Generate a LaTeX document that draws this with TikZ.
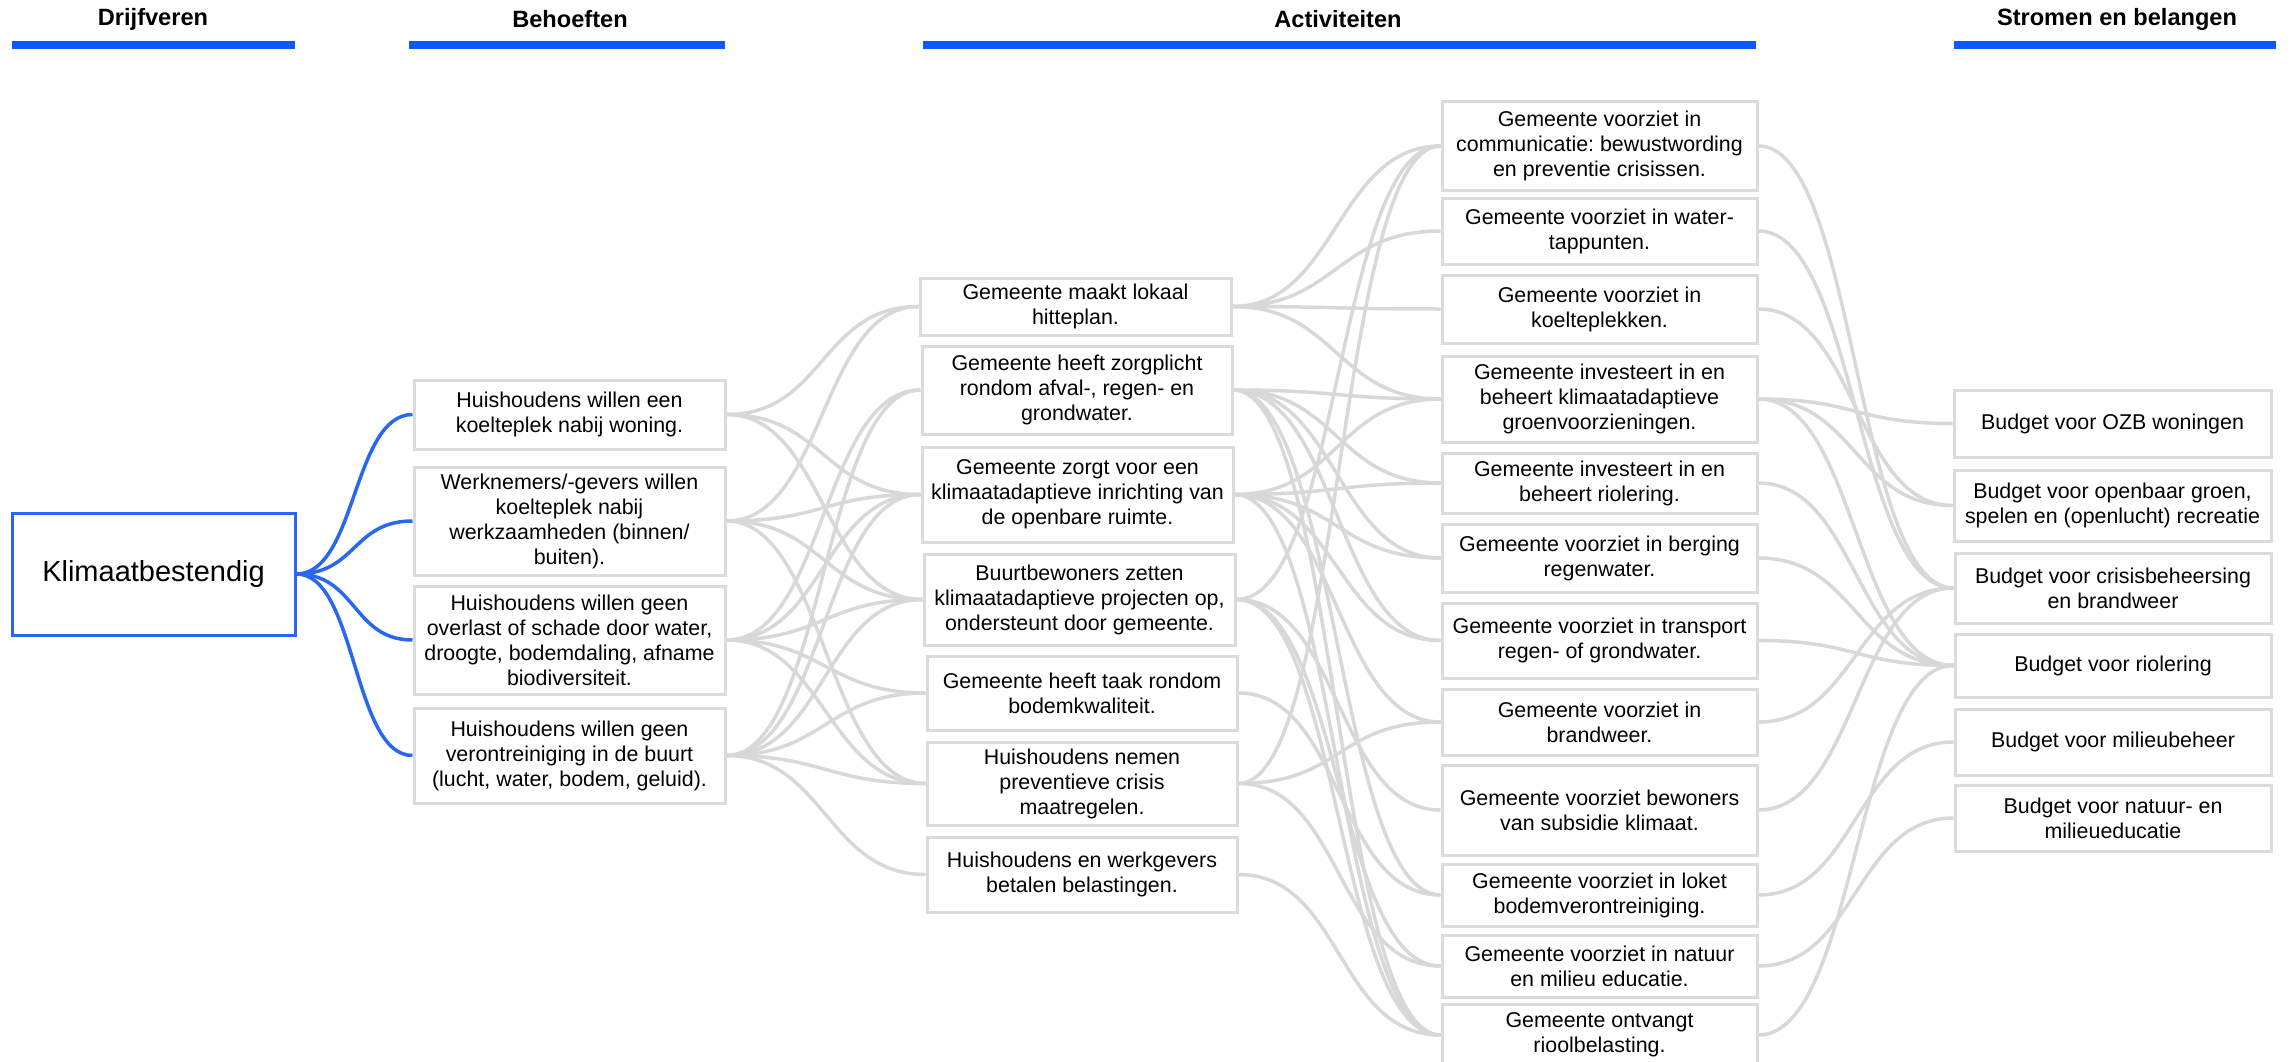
\documentclass[tikz,border=0pt]{standalone}
\usepackage{fontspec}
\setmainfont{Liberation Sans}
\usetikzlibrary{backgrounds}
\frenchspacing

\definecolor{linkgrey}{RGB}{216,216,216}
\definecolor{boxgrey}{RGB}{219,219,219}
\definecolor{barblue}{RGB}{14,88,255}
\definecolor{rootblue}{RGB}{40,104,240}

\begin{document}
\begin{tikzpicture}[x=1pt,y=-1pt,
  box/.style={draw=boxgrey, line width=3pt, fill=white, align=center,
    inner sep=2pt, font=\fontsize{21.4}{25}\selectfont\frenchspacing},
  rootbox/.style={draw=rootblue, line width=3pt, fill=white, align=center,
    font=\fontsize{29}{34}\selectfont},
  head/.style={font=\fontsize{23.6}{28}\selectfont\bfseries},
  bar/.style={fill=barblue, draw=none},
  link/.style={draw=linkgrey, line width=3.5pt},
  rootlink/.style={draw=rootblue, line width=3.5pt}]

\useasboundingbox (0,0) rectangle (2290,1062);

% column headers
\node[head] (hd1) at (153,19) {Drijfveren};
\node[head] (hd2) at (570,19) {Behoeften};
\node[head] (hd3) at (1338,19) {Activiteiten};
\node[head] (hd4) at (2117,19) {Stromen en belangen};
\fill[bar] (12,41.5) rectangle (295,49.5);
\fill[bar] (409,41.5) rectangle (725,49.5);
\fill[bar] (923,41.5) rectangle (1756,49.5);
\fill[bar] (1954,41.5) rectangle (2276,49.5);

% driver
\node[rootbox, minimum width=283pt, minimum height=122pt] (k) at (153.5,574) {Klimaatbestendig};

% needs
\node[box, minimum width=311pt, minimum height=69pt]  (b1) at (569.5,414.5) {Huishoudens willen een\\koelteplek nabij woning.};
\node[box, minimum width=311pt, minimum height=108pt] (b2) at (569.5,521) {Werknemers/-gevers willen\\koelteplek nabij\\werkzaamheden (binnen/\\buiten).};
\node[box, minimum width=311pt, minimum height=108pt] (b3) at (569.5,640) {Huishoudens willen geen\\overlast of schade door water,\\droogte, bodemdaling, afname\\biodiversiteit.};
\node[box, minimum width=311pt, minimum height=95pt]  (b4) at (569.5,755.5) {Huishoudens willen geen\\verontreiniging in de buurt\\(lucht, water, bodem, geluid).};

% activities, first column
\node[box, minimum width=311pt, minimum height=57pt] (a1) at (1075.5,306.5) {Gemeente maakt lokaal\\hitteplan.};
\node[box, minimum width=310pt, minimum height=88pt] (a2) at (1077,390) {Gemeente heeft zorgplicht\\rondom afval-, regen- en\\grondwater.};
\node[box, minimum width=311pt, minimum height=95pt] (a3) at (1077.5,494.5) {Gemeente zorgt voor een\\klimaatadaptieve inrichting van\\de openbare ruimte.};
\node[box, minimum width=311pt, minimum height=91pt] (a4) at (1079.5,599.5) {Buurtbewoners zetten\\klimaatadaptieve projecten op,\\ondersteunt door gemeente.};
\node[box, minimum width=310pt, minimum height=74pt] (a5) at (1082,693) {Gemeente heeft taak rondom\\bodemkwaliteit.};
\node[box, minimum width=310pt, minimum height=83pt] (a6) at (1082,783.5) {Huishoudens nemen\\preventieve crisis\\maatregelen.};
\node[box, minimum width=310pt, minimum height=75pt] (a7) at (1082,874.5) {Huishoudens en werkgevers\\betalen belastingen.};

% activities, second column
\node[box, minimum width=315pt, minimum height=88pt] (c1) at (1599.5,146) {Gemeente voorziet in\\communicatie: bewustwording\\en preventie crisissen.};
\node[box, minimum width=315pt, minimum height=66pt] (c2) at (1599.5,231) {Gemeente voorziet in water-\\tappunten.};
\node[box, minimum width=315pt, minimum height=68pt] (c3) at (1599.5,309) {Gemeente voorziet in\\koelteplekken.};
\node[box, minimum width=315pt, minimum height=86pt] (c4) at (1599.5,399) {Gemeente investeert in en\\beheert klimaatadaptieve\\groenvoorzieningen.};
\node[box, minimum width=315pt, minimum height=60pt] (c5) at (1599.5,483) {Gemeente investeert in en\\beheert riolering.};
\node[box, minimum width=315pt, minimum height=68pt] (c6) at (1599.5,558) {Gemeente voorziet in berging\\regenwater.};
\node[box, minimum width=315pt, minimum height=75pt] (c7) at (1599.5,640.5) {Gemeente voorziet in transport\\regen- of grondwater.};
\node[box, minimum width=315pt, minimum height=66pt] (c8) at (1599.5,722) {Gemeente voorziet in\\brandweer.};
\node[box, minimum width=315pt, minimum height=90pt] (c9) at (1599.5,810) {Gemeente voorziet bewoners\\van subsidie klimaat.};
\node[box, minimum width=315pt, minimum height=62pt] (c10) at (1599.5,895) {Gemeente voorziet in loket\\bodemverontreiniging.};
\node[box, minimum width=315pt, minimum height=62pt] (c11) at (1599.5,966) {Gemeente voorziet in natuur\\en milieu educatie.};
\node[box, minimum width=315pt, minimum height=62pt] (c12) at (1599.5,1035) {Gemeente ontvangt\\rioolbelasting.};

% flows and interests
\node[box, minimum width=317pt, minimum height=67pt] (s1) at (2112.5,423.5) {Budget voor OZB woningen};
\node[box, minimum width=317pt, minimum height=71pt] (s2) at (2112.5,505.5) {Budget voor openbaar groen,\\spelen en (openlucht) recreatie};
\node[box, minimum width=316pt, minimum height=70pt] (s3) at (2113,588) {Budget voor crisisbeheersing\\en brandweer};
\node[box, minimum width=316pt, minimum height=63pt] (s4) at (2113,665.5) {Budget voor riolering};
\node[box, minimum width=316pt, minimum height=66pt] (s5) at (2113,742) {Budget voor milieubeheer};
\node[box, minimum width=316pt, minimum height=66pt] (s6) at (2113,818) {Budget voor natuur- en\\milieueducatie};

\begin{scope}[on background layer]
  % driver to needs
  \foreach \t in {b1,b2,b3,b4}
    \draw[rootlink] (k.east) .. controls +(60,0) and +(-60,0) .. (\t.west);
  % needs to activities
  \foreach \s/\t in {b1/a1,b1/a3,b1/a4,
                     b2/a1,b2/a3,b2/a4,b2/a6,
                     b3/a2,b3/a3,b3/a4,b3/a5,b3/a6,
                     b4/a2,b4/a3,b4/a4,b4/a5,b4/a6,b4/a7}
    \draw[link] (\s.east) .. controls +(98,0) and +(-98,0) .. (\t.west);
  % activities to municipal services
  \foreach \s/\t in {a1/c1,a1/c2,a1/c3,a1/c4,
                     a2/c4,a2/c5,a2/c6,a2/c7,a2/c10,a2/c12,
                     a3/c4,a3/c5,a3/c6,a3/c7,a3/c8,a3/c12,
                     a4/c1,a4/c9,a4/c11,a4/c12,
                     a5/c10,
                     a6/c1,a6/c8,a6/c11,
                     a7/c12}
    \draw[link] (\s.east) .. controls +(104,0) and +(-104,0) .. (\t.west);
  % services to budgets
  \foreach \s/\t in {c1/s3,c2/s3,c3/s2,c4/s1,c4/s2,c4/s4,c5/s4,c6/s4,
                     c7/s4,c8/s3,c9/s3,c10/s5,c11/s6,c12/s4}
    \draw[link] (\s.east) .. controls +(98,0) and +(-98,0) .. (\t.west);
\end{scope}
\end{tikzpicture}
\end{document}
